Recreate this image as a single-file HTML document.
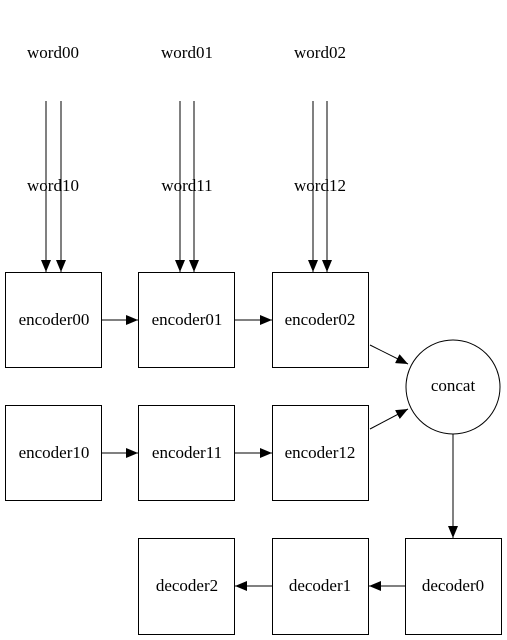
<!DOCTYPE html>
<html><head><meta charset="utf-8"><style>
html,body{margin:0;padding:0;background:#fff;}
svg{display:block;}
text{font-family:"Liberation Serif",serif;font-size:17px;fill:#000;text-anchor:middle;}
</style></head><body>
<svg width="507" height="640" viewBox="0 0 507 640" xmlns="http://www.w3.org/2000/svg">
<defs><marker id="b" viewBox="0 0 12 10" refX="12" refY="5" markerWidth="12" markerHeight="10" markerUnits="userSpaceOnUse" orient="auto"><path d="M0,0 L12,5 L0,10 z" fill="#000"/></marker></defs>
<g fill="none" stroke="#000" stroke-width="1">
<rect x="5.5" y="272.5" width="96" height="95"/>
<rect x="138.5" y="272.5" width="96" height="95"/>
<rect x="272.5" y="272.5" width="96" height="95"/>
<rect x="5.5" y="405.5" width="96" height="95"/>
<rect x="138.5" y="405.5" width="96" height="95"/>
<rect x="272.5" y="405.5" width="96" height="95"/>
<rect x="138.5" y="538.5" width="96" height="96"/>
<rect x="272.5" y="538.5" width="96" height="96"/>
<rect x="405.5" y="538.5" width="96" height="96"/>
<circle cx="453" cy="387" r="47"/>
<path d="M46,101 C46,180 46,220 46,272" marker-end="url(#b)"/>
<path d="M61,101 C61,180 61,220 61,272" marker-end="url(#b)"/>
<path d="M180,101 C180,180 180,220 180,272" marker-end="url(#b)"/>
<path d="M194,101 C194,180 194,220 194,272" marker-end="url(#b)"/>
<path d="M313,101 C313,180 313,220 313,272" marker-end="url(#b)"/>
<path d="M327,101 C327,180 327,220 327,272" marker-end="url(#b)"/>
<path d="M102,320 L138,320" marker-end="url(#b)"/>
<path d="M235,320 L272,320" marker-end="url(#b)"/>
<path d="M102,453 L138,453" marker-end="url(#b)"/>
<path d="M235,453 L272,453" marker-end="url(#b)"/>
<path d="M370,345 L408,364" marker-end="url(#b)"/>
<path d="M370,429 L408,409" marker-end="url(#b)"/>
<path d="M453,434 L453,538" marker-end="url(#b)"/>
<path d="M405,586 L369,586" marker-end="url(#b)"/>
<path d="M272,586 L235,586" marker-end="url(#b)"/>
</g>
<text x="53" y="58">word00</text>
<text x="187" y="58">word01</text>
<text x="320" y="58">word02</text>
<text x="53" y="191">word10</text>
<text x="187" y="191">word11</text>
<text x="320" y="191">word12</text>
<text x="54" y="325">encoder00</text>
<text x="187" y="325">encoder01</text>
<text x="320" y="325">encoder02</text>
<text x="54" y="458">encoder10</text>
<text x="187" y="458">encoder11</text>
<text x="320" y="458">encoder12</text>
<text x="453" y="391">concat</text>
<text x="187" y="591">decoder2</text>
<text x="320" y="591">decoder1</text>
<text x="453" y="591">decoder0</text>
</svg>
</body></html>
